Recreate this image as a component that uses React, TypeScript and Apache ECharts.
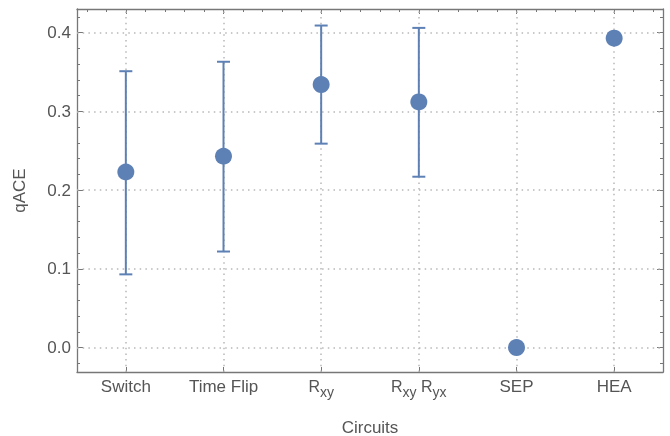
import React, { useEffect, useRef } from "react";
import * as echarts from "echarts";

const categories = ["Switch", "Time Flip", "Rxy", "RxyRyx", "SEP", "HEA"];
const values = [0.223, 0.243, 0.334, 0.312, 0.0, 0.393];
const lowValues = [0.093, 0.122, 0.259, 0.217, null, null];
const highValues = [0.351, 0.363, 0.409, 0.406, null, null];
const yTickLabels = [0, 0.1, 0.2, 0.3, 0.4];
const yMinorTicks = [-0.02, 0, 0.02, 0.04, 0.06, 0.08, 0.1, 0.12, 0.14, 0.16, 0.18, 0.2, 0.22, 0.24, 0.26, 0.28, 0.3, 0.32, 0.34, 0.36, 0.38, 0.4, 0.42];

const BLUE = "#5e81b5";
const FRAME = "#777777";
const TEXT = "#555555";
const GRID = "#b8b8b8";
const FONT = "'Liberation Sans', Arial, sans-serif";
const FS = 17;

const labelRich: Record<string, string> = {
  Rxy: "{rr|R}{ss|xy}",
  RxyRyx: "{rr|R}{ss|xy}{rr| R}{ss|yx}",
};

export default function App() {
  const ref = useRef<HTMLDivElement>(null);
  useEffect(() => {
    if (!ref.current) return;
    const chart = echarts.init(ref.current, undefined, { renderer: "svg" });
    const yMin = -0.031;
    const yMax = 0.43;
    const topMinor: number[] = [];
    for (let i = 0; i < 30; i++) topMinor.push(0.1 + i * 0.2);
    const topMajor = categories.map((_, i) => i + 0.5);
    const gridLine = { color: GRID, width: 1.5, type: [1.5, 4.2] as any };
    const option: any = {
      animation: false,
      grid: { left: 77, right: 7, top: 9, bottom: 64, outerBoundsMode: "none", containLabel: false },
      xAxis: [
        {
          type: "category",
          data: categories,
          position: "bottom",
          boundaryGap: true,
          name: "Circuits",
          nameLocation: "middle",
          nameGap: 47,
          nameTextStyle: { fontSize: FS, color: TEXT, fontFamily: FONT },
          axisLine: { show: true, onZero: false, lineStyle: { color: FRAME, width: 1.3 } },
          axisTick: { show: true, inside: true, alignWithLabel: true, length: 5, lineStyle: { color: FRAME } },
          axisLabel: {
            interval: 0,
            fontSize: FS,
            color: TEXT,
            fontFamily: FONT,
            margin: 6,
            formatter: (v: string) => labelRich[v] ?? `{r|${v}}`,
            rich: {
              r: { fontSize: FS, color: TEXT, fontFamily: FONT, lineHeight: 18, verticalAlign: "top" },
              rr: { fontSize: 16, color: TEXT, fontFamily: FONT, lineHeight: 21, verticalAlign: "top" },
              ss: { fontSize: 14, color: TEXT, fontFamily: FONT, lineHeight: 12, verticalAlign: "bottom" },
            },
          },
          splitLine: { show: false },
        },
        {
          type: "value",
          position: "top",
          min: 0,
          max: 6,
          axisLine: { show: true, onZero: false, lineStyle: { color: FRAME, width: 1.3 } },
          axisTick: { show: true, inside: true, length: 3, customValues: topMinor, lineStyle: { color: FRAME } },
          axisLabel: { show: false },
          splitLine: { show: false },
        },
        {
          type: "value",
          position: "top",
          min: 0,
          max: 6,
          axisLine: { show: false, onZero: false },
          axisTick: { show: true, inside: true, length: 5, customValues: topMajor, lineStyle: { color: FRAME } },
          axisLabel: { show: false },
          splitLine: { show: false },
        },
      ],
      yAxis: [
        {
          type: "value",
          min: yMin,
          max: yMax,
          position: "left",
          name: "qACE",
          nameLocation: "middle",
          nameGap: 49,
          nameRotate: 90,
          nameTextStyle: { fontSize: FS, color: TEXT, fontFamily: FONT },
          axisLine: { show: true, onZero: false, lineStyle: { color: FRAME, width: 1.3 } },
          axisTick: { show: true, inside: true, length: 6, customValues: yTickLabels, lineStyle: { color: FRAME } },
          axisLabel: {
            fontSize: FS,
            color: TEXT,
            fontFamily: FONT,
            margin: 6,
            customValues: yTickLabels,
            formatter: (v: number) => v.toFixed(1),
          },
          splitLine: { show: false },
        },
        {
          type: "value",
          min: yMin,
          max: yMax,
          position: "left",
          axisLine: { show: false, onZero: false },
          axisTick: { show: true, inside: true, length: 3, customValues: yMinorTicks, lineStyle: { color: FRAME } },
          axisLabel: { show: false },
          splitLine: { show: false },
        },
        {
          type: "value",
          min: yMin,
          max: yMax,
          position: "right",
          axisLine: { show: true, onZero: false, lineStyle: { color: FRAME, width: 1.3 } },
          axisTick: { show: true, inside: true, length: 3, customValues: yMinorTicks, lineStyle: { color: FRAME } },
          axisLabel: { show: false },
          splitLine: { show: false },
        },
        {
          type: "value",
          min: yMin,
          max: yMax,
          position: "right",
          axisLine: { show: false, onZero: false },
          axisTick: { show: true, inside: true, length: 6, customValues: yTickLabels, lineStyle: { color: FRAME } },
          axisLabel: { show: false },
          splitLine: { show: false },
        },
      ],
      series: [
        {
          type: "line",
          data: [],
          z: 1,
          markLine: {
            silent: true,
            z: 1,
            symbol: ["none", "none"],
            label: { show: false },
            lineStyle: gridLine,
            data: [
              ...yTickLabels.map((v) => ({ yAxis: v })),
              ...categories.map((c) => ({ xAxis: c })),
            ],
          },
        },
        {
          type: "custom",
          z: 10,
          data: categories.map((c, i) => [i, lowValues[i], highValues[i]]),
          renderItem: (params: any, api: any) => {
            const lo = api.value(1);
            const hi = api.value(2);
            if (lo == null || hi == null || isNaN(lo) || isNaN(hi)) return null;
            const p1 = api.coord([api.value(0), lo]);
            const p2 = api.coord([api.value(0), hi]);
            const w = 6.5;
            const style = { stroke: BLUE, lineWidth: 2, fill: "none" };
            return {
              type: "group",
              children: [
                { type: "line", shape: { x1: p1[0], y1: p1[1], x2: p2[0], y2: p2[1] }, style },
                { type: "line", shape: { x1: p1[0] - w, y1: p1[1], x2: p1[0] + w, y2: p1[1] }, style },
                { type: "line", shape: { x1: p2[0] - w, y1: p2[1], x2: p2[0] + w, y2: p2[1] }, style },
              ],
            };
          },
        },
        {
          type: "scatter",
          z: 11,
          symbol: "circle",
          symbolSize: 17,
          itemStyle: { color: BLUE, opacity: 1 },
          data: categories.map((c, i) => [c, values[i]]),
        },
      ],
    };
    chart.setOption(option);
    return () => chart.dispose();
  }, []);
  return <div ref={ref} style={{ position: "fixed", left: 0, top: 0, width: 670, height: 436 }} />;
}
